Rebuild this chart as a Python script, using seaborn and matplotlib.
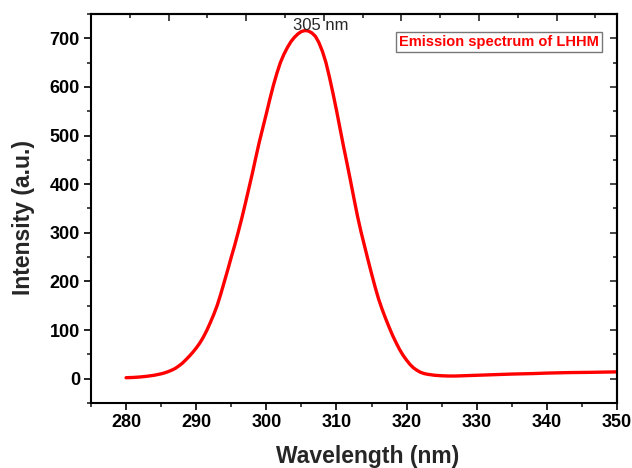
import matplotlib
matplotlib.use("Agg")
import matplotlib.pyplot as plt
import seaborn as sns
import pandas as pd
from matplotlib.ticker import MultipleLocator, NullFormatter

# ---- data ----
wavelength = [280, 281, 282, 283, 284, 284.5, 285, 285.5, 286, 286.5, 287, 287.5,
              288, 288.5, 289, 289.5, 290, 290.5, 291, 291.5, 292, 292.5, 293, 293.5,
              294, 294.5, 295, 295.5, 296, 296.5, 297, 297.5, 298, 298.5, 299, 299.5,
              300, 300.5, 301, 301.5, 302, 302.5, 303, 303.5, 304, 304.5, 305, 305.5,
              306, 306.5, 307, 307.5, 308, 308.5, 309, 309.5, 310, 310.5, 311, 311.5,
              312, 312.5, 313, 313.5, 314, 314.5, 315, 315.5, 316, 316.5, 317, 317.5,
              318, 318.5, 319, 319.5, 320, 320.5, 321, 321.5, 322, 322.5, 323, 323.5,
              324, 325, 326, 327, 328, 330, 332, 335, 338, 340, 343, 346, 350]
intensity = [2, 2.5, 3.5, 5, 7, 8.5, 10, 12, 14.5, 17.5, 21, 26,
             31.5, 38.5, 46, 54, 63, 73, 85, 99, 115, 132, 151, 174,
             199, 224, 250, 275, 302, 330, 360, 391, 422, 455, 487, 516,
             545, 575, 603, 628, 650, 667, 681, 693, 702, 709, 714, 716,
             715, 711, 704, 691, 673, 650, 620, 587, 552, 515, 478, 443,
             407, 370, 334, 302, 273, 244, 216, 189, 164, 143, 124, 106,
             89, 74, 60, 48, 38, 29, 22, 17, 13, 10.5, 9, 8,
             7, 6, 5.5, 5.5, 6, 7, 8, 9.5, 10.5, 11.5, 12.5, 13, 14]
x_ticks = [280, 290, 300, 310, 320, 330, 340, 350]
y_ticks = [0, 100, 200, 300, 400, 500, 600, 700]
peak_label = "305 nm"
peak_pos = (307.8, 718)
series_label = "Emission spectrum of LHHM"
x_label = "Wavelength (nm)"
y_label = "Intensity (a.u.)"

sns.set_style("ticks")
plt.rcParams['font.family'] = ['Liberation Sans', 'DejaVu Sans']

fig = plt.figure(figsize=(6.32, 4.68), dpi=100)
ax = fig.add_axes([0.1440, 0.1389, 0.8323, 0.8312])

df = pd.DataFrame({"Wavelength": wavelength, "Intensity": intensity})
sns.lineplot(data=df, x="Wavelength", y="Intensity", ax=ax, color="#ff0000",
             linewidth=2.4, label=series_label)
for ln in ax.get_lines():
    ln.set_solid_joinstyle('round')

ax.set_xlim(275, 350)
ax.set_ylim(-50, 750)
ax.set_xticks(x_ticks)
ax.set_yticks(y_ticks)
ax.xaxis.set_minor_locator(MultipleLocator(5))
ax.yaxis.set_minor_locator(MultipleLocator(50))
ax.tick_params(which='major', direction='out', length=5, width=1.2, labelsize=13,
               top=False, right=False, pad=3, colors='black')
ax.tick_params(which='minor', direction='out', length=3, width=1.2, top=False, right=False)
for lab in ax.get_xticklabels() + ax.get_yticklabels():
    lab.set_fontweight('bold')

for sp in ax.spines.values():
    sp.set_visible(True)
    sp.set_linewidth(1.5)
    sp.set_color('black')

# mirrored (inward) ticks on top and right
top = ax.secondary_xaxis('top', functions=(lambda w: (w - 275) * 0.904,
                                           lambda t: t / 0.904 + 275))
top.xaxis.set_major_locator(MultipleLocator(10))
top.xaxis.set_minor_locator(MultipleLocator(5))
top.xaxis.set_major_formatter(NullFormatter())
top.tick_params(which='major', direction='in', length=5, width=1.2)
top.tick_params(which='minor', direction='in', length=3, width=1.2)
top.spines['top'].set_linewidth(1.5)

right = ax.secondary_yaxis('right')
right.set_yticks(y_ticks)
right.yaxis.set_minor_locator(MultipleLocator(50))
right.yaxis.set_major_formatter(NullFormatter())
right.tick_params(which='major', direction='in', length=5, width=1.2)
right.tick_params(which='minor', direction='in', length=3, width=1.2)
right.spines['right'].set_linewidth(1.5)

ax.set_xlabel(x_label, fontsize=16.5, fontweight='bold')
ax.set_ylabel(y_label, fontsize=16.5, fontweight='bold')
ax.xaxis.set_label_coords(0.525, -0.108)
ax.yaxis.set_label_coords(-0.106, 0.476)

ax.text(peak_pos[0], peak_pos[1], peak_label, ha='center', va='baseline', fontsize=12)

leg = ax.legend(loc='upper right', bbox_to_anchor=(0.971, 0.954), handlelength=0,
                handletextpad=0, frameon=True, fancybox=False, borderpad=0.2,
                borderaxespad=0, prop={'weight': 'bold', 'size': 10.5},
                labelcolor='#ff0000')
leg.get_frame().set_edgecolor('#555555')
leg.get_frame().set_linewidth(1.0)
for h in leg.legend_handles:
    h.set_visible(False)

fig.savefig("out.png", dpi=100)
